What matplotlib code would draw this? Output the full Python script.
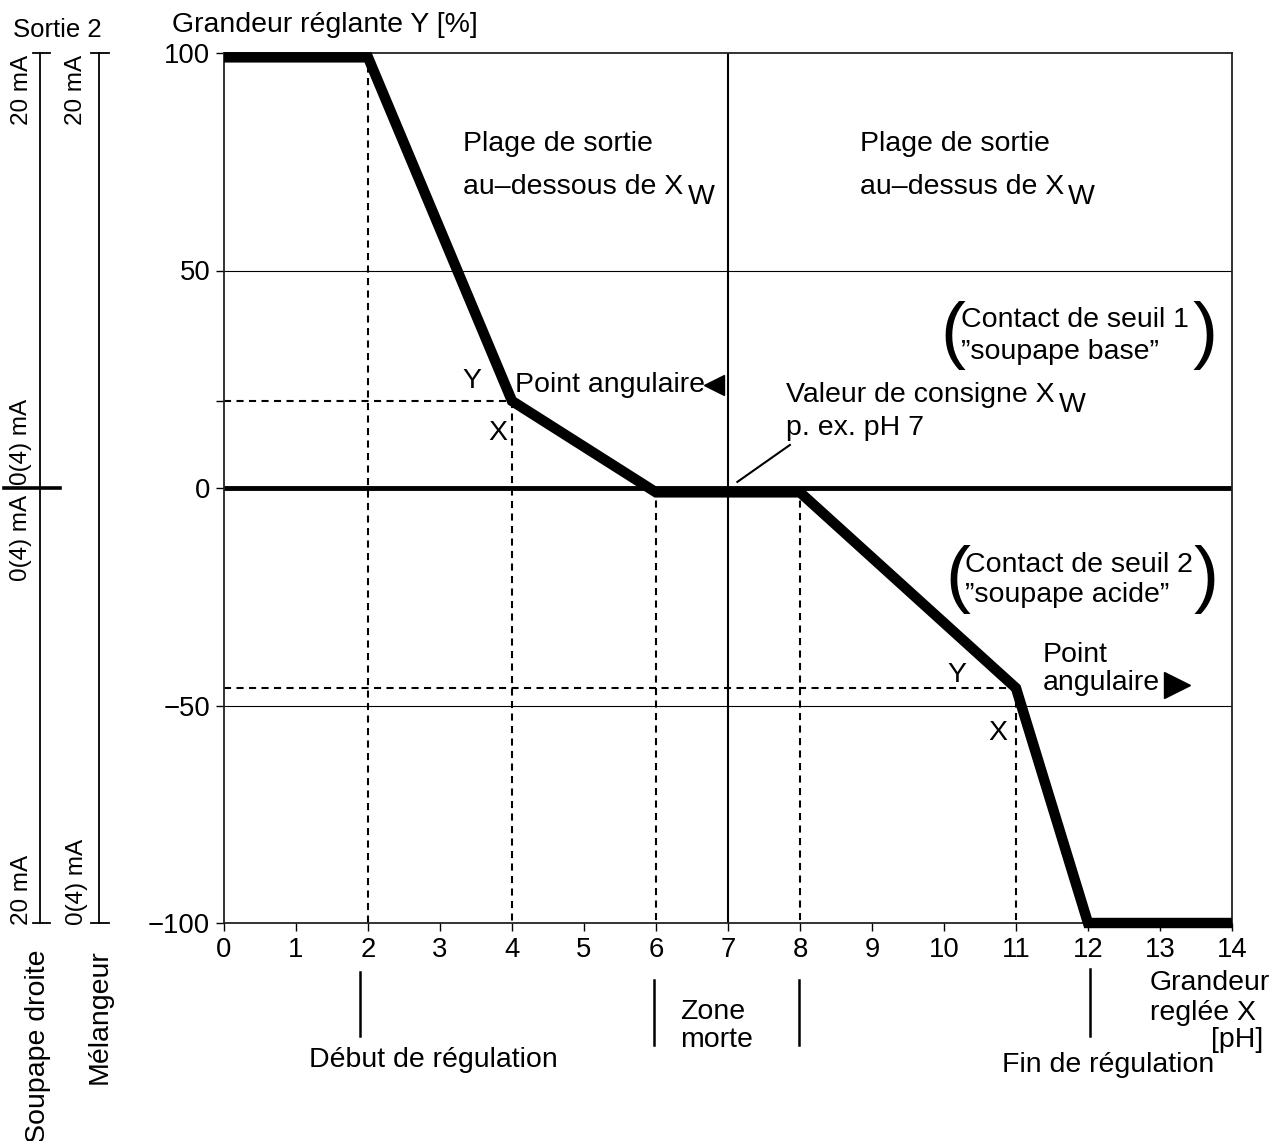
import matplotlib
matplotlib.use("Agg")
import matplotlib.pyplot as plt
import matplotlib.transforms as mtransforms
from matplotlib.lines import Line2D

plt.rcParams['font.family'] = ['Liberation Sans', 'DejaVu Sans']
plt.rcParams['axes.unicode_minus'] = True

# characteristic curve (pH -> output Y in %)
curve_x = [0, 2, 4, 6, 8, 11, 12, 14]
curve_y = [99, 99, 20, -1, -1, -46, -100, -100]

x_ticks = list(range(0, 15))
y_ticks = [100, 50, 0, -50, -100]

# corner points and markers
corner1 = (4, 20)
corner2 = (11, -46)
setpoint = 7

fs = 20.5

fig = plt.figure(figsize=(12.73, 11.41), dpi=100)
ax = fig.add_axes([224 / 1273, 1 - 923 / 1141, (1232 - 224) / 1273, (923 - 53) / 1141])
ax.set_xlim(0, 14)
ax.set_ylim(-100, 100)
ax.set_xticks(x_ticks)
ax.set_yticks(y_ticks)
ax.set_yticks([20], minor=True)
ax.tick_params(which='both', direction='out', length=6, width=1, labelsize=19.8, pad=4)
ax.tick_params(axis='y', which='minor', labelleft=False)
for s in ax.spines.values():
    s.set_linewidth(1.3)
    s.set_color('#222222')

# grid lines / reference lines
for yy in [50, -50]:
    ax.axhline(yy, color='black', lw=0.8, zorder=1)
ax.axhline(0, color='black', lw=3.5, zorder=2)
ax.axvline(setpoint, color='black', lw=1.5, zorder=2)

# dashed helper lines
dash = (0, (3.4, 2.6))
dlw = 1.5
ax.plot([2, 2], [100, -100], color='black', lw=dlw, ls=dash, zorder=1)
for xx, yy in [corner1, (6, 0), (8, 0), corner2]:
    ax.plot([xx, xx], [yy, -100], color='black', lw=dlw, ls=dash, zorder=1)
ax.plot([0, corner1[0]], [corner1[1], corner1[1]], color='black', lw=dlw, ls=dash, zorder=1)
ax.plot([0, corner2[0]], [corner2[1], corner2[1]], color='black', lw=dlw, ls=dash, zorder=1)

# thick curve
ax.plot(curve_x, curve_y, color='black', lw=7.5, solid_joinstyle='miter',
        solid_capstyle='butt', clip_on=False, zorder=4)


def sub_w(t, dy=-7):
    ax.annotate('W', xy=(1, 0), xycoords=t, xytext=(3, dy), textcoords='offset points',
                fontsize=fs, va='bottom', ha='left')


# texts inside the plot
ax.text(3.32, 79, 'Plage de sortie', fontsize=fs, va='center')
t = ax.text(3.32, 69.2, 'au–dessous de X', fontsize=fs, va='center')
sub_w(t)
ax.text(8.83, 79, 'Plage de sortie', fontsize=fs, va='center')
t = ax.text(8.83, 69.2, 'au–dessus de X', fontsize=fs, va='center')
sub_w(t)

ax.text(10.24, 38.6, 'Contact de seuil 1', fontsize=fs, va='center')
ax.text(10.24, 31.3, '”soupape base”', fontsize=fs, va='center')
ax.text(10.29, -17.7, 'Contact de seuil 2', fontsize=fs, va='center')
ax.text(10.29, -24.6, '”soupape acide”', fontsize=fs, va='center')
for px, py in [(10.13, 35), (13.63, 35), (10.19, -21), (13.64, -21)]:
    ax.text(px, py, '(' if px < 12 else ')', fontsize=54, va='center', ha='center')

ax.text(3.45, 24.6, 'Y', fontsize=fs, va='center', ha='center')
ax.text(3.8, 12.6, 'X', fontsize=fs, va='center', ha='center')
ax.text(4.04, 23.7, 'Point angulaire', fontsize=fs, va='center')
ax.plot(6.81, 23.7, marker='<', ms=15, color='black', clip_on=False)

t = ax.text(7.8, 21.4, 'Valeur de consigne X', fontsize=fs, va='center')
sub_w(t)
ax.text(7.8, 13.8, 'p. ex. pH 7', fontsize=fs, va='center')
ax.plot([7.13, 7.86], [1.4, 9.9], color='black', lw=1.5)

ax.text(10.18, -43, 'Y', fontsize=fs, va='center', ha='center')
ax.text(10.75, -56.3, 'X', fontsize=fs, va='center', ha='center')
ax.text(11.37, -38.4, 'Point', fontsize=fs, va='center')
ax.text(11.37, -44.8, 'angulaire', fontsize=fs, va='center')
ax.plot(13.23, -45.3, marker='>', ms=19, color='black', clip_on=False)

# axis titles
fig.text(172 / 1273, 1 - 25 / 1141, 'Grandeur réglante Y [%]', fontsize=fs, va='center', ha='left')
fig.text(1150 / 1273, 1 - 983 / 1141, 'Grandeur', fontsize=fs, va='center', ha='left')
fig.text(1150 / 1273, 1 - 1013 / 1141, 'reglée X', fontsize=fs, va='center', ha='left')
fig.text(1263 / 1273, 1 - 1040 / 1141, '[pH]', fontsize=fs, va='center', ha='right')

# labels below the x axis
bars = [(1.89, -111.3, -126), (5.97, -113, -128), (7.99, -113, -128), (12.03, -110.5, -126)]
for bx, y0, y1 in bars:
    ax.plot([bx, bx], [y0, y1], color='black', lw=1.8, clip_on=False)
ax.text(1.18, -131.5, 'Début de régulation', fontsize=fs, va='center')
ax.text(6.33, -120.5, 'Zone', fontsize=fs, va='center')
ax.text(6.33, -127, 'morte', fontsize=fs, va='center')
ax.text(10.8, -132.6, 'Fin de régulation', fontsize=fs, va='center')

# left side current scales (x in figure pixels, y in data units)
tr = mtransforms.blended_transform_factory(
    mtransforms.Affine2D().scale(1 / 1273, 1) + fig.transFigure, ax.transData)
for lx, c0, c1 in [(40, 33, 50), (99, 91, 109)]:
    fig.add_artist(Line2D([lx, lx], [100, -100], transform=tr, color='black', lw=1.3))
    fig.add_artist(Line2D([c0, c1], [100, 100], transform=tr, color='black', lw=1.3))
    fig.add_artist(Line2D([c0, c1], [-100, -100], transform=tr, color='black', lw=1.3))
fig.add_artist(Line2D([4, 60], [0, 0], transform=tr, color='black', lw=2.6))

fs_ma = 17.5
fig.text(57 / 1273, 1 - 30 / 1141, 'Sortie 2', fontsize=18.5, ha='center', va='center')
ax.text(22, 99.5, '20 mA', transform=tr, rotation=90, fontsize=fs_ma, ha='center', va='top')
ax.text(76, 99.5, '20 mA', transform=tr, rotation=90, fontsize=fs_ma, ha='center', va='top')
ax.text(21, 10.7, '0(4) mA', transform=tr, rotation=90, fontsize=fs_ma, ha='center', va='center')
ax.text(21, -11.5, '0(4) mA', transform=tr, rotation=90, fontsize=fs_ma, ha='center', va='center')
ax.text(22, -100.5, '20 mA', transform=tr, rotation=90, fontsize=fs_ma, ha='center', va='bottom')
ax.text(77, -100.5, '0(4) mA', transform=tr, rotation=90, fontsize=fs_ma, ha='center', va='bottom')
ax.text(38, -106, 'Soupape droite', transform=tr, rotation=90, fontsize=fs, ha='center', va='top')
ax.text(100, -106, 'Mélangeur', transform=tr, rotation=90, fontsize=fs, ha='center', va='top')

fig.savefig('out.png', dpi=100)
